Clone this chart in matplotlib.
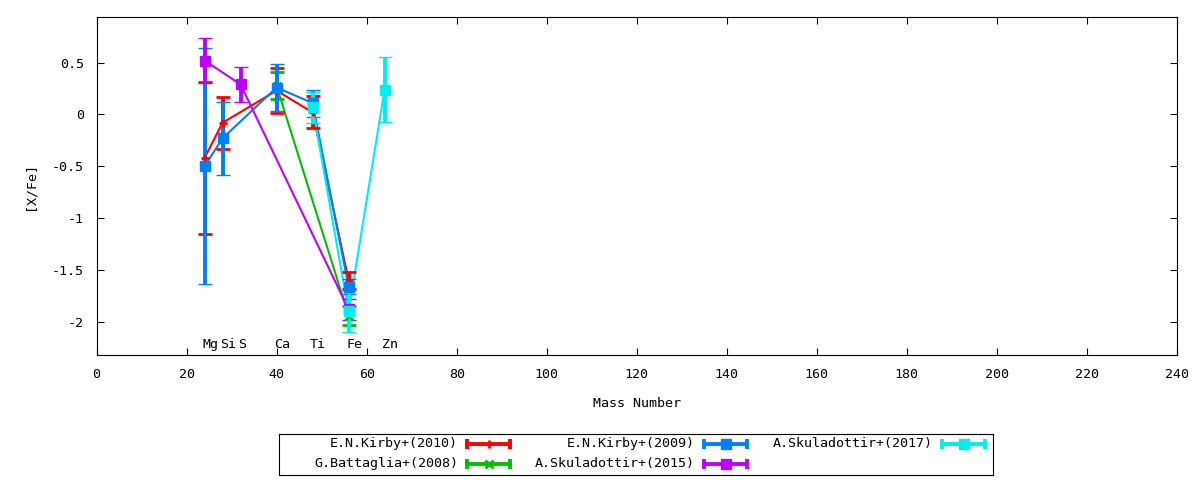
import matplotlib
matplotlib.use("Agg")
import matplotlib.pyplot as plt

plt.rcParams['font.family'] = ['DejaVu Sans Mono', 'DejaVu Sans']
FS = 9.6

# Element labels (mass number)
elements = ["Mg", "Si", "S", "Ca", "Ti", "Fe", "Zn"]
element_mass = [24, 28, 32, 40, 48, 56, 64]

# Series
kirby2010_x = [24, 28, 40, 48, 56]
kirby2010_y = [-0.42, -0.08, 0.23, 0.02, -1.60]
kirby2010_e = [0.73, 0.25, 0.215, 0.155, 0.08]

battaglia2008_x = [40, 56]
battaglia2008_y = [0.275, -1.94]
battaglia2008_e = [0.13, 0.09]

kirby2009_x = [24, 28, 40, 48, 56]
kirby2009_y = [-0.50, -0.23, 0.26, 0.11, -1.66]
kirby2009_e = [1.14, 0.35, 0.225, 0.13, 0.07]

skul2015_x = [24, 32, 56]
skul2015_y = [0.52, 0.29, -1.88]
skul2015_e = [0.22, 0.165, 0.10]

skul2017_x = [48, 56, 64]
skul2017_y = [0.07, -1.90, 0.24]
skul2017_e = [0.15, 0.20, 0.315]

series = [
    ("E.N.Kirby+(2010)", kirby2010_x, kirby2010_y, kirby2010_e, "#ff0000", "+"),
    ("G.Battaglia+(2008)", battaglia2008_x, battaglia2008_y, battaglia2008_e, "#00c000", "x"),
    ("E.N.Kirby+(2009)", kirby2009_x, kirby2009_y, kirby2009_e, "#0080ff", "s"),
    ("A.Skuladottir+(2015)", skul2015_x, skul2015_y, skul2015_e, "#c000ff", "s"),
    ("A.Skuladottir+(2017)", skul2017_x, skul2017_y, skul2017_e, "#00eeee", "s"),
]

x_ticks = list(range(0, 241, 20))
y_ticks = [-2, -1.5, -1, -0.5, 0, 0.5]
y_tick_labels = ["-2", "-1.5", "-1", "-0.5", "0", "0.5"]

fig = plt.figure(figsize=(12, 4.8), dpi=100)
ax = fig.add_axes([96.5/1200, 1-355/480, (1177-96.5)/1200, (355-17)/480])

for label, xs, ys, es, col, mk in series:
    ax.plot(xs, ys, color=col, lw=1.5, zorder=2)
    msize = 7.2 if mk == "s" else 6
    ax.errorbar(xs, ys, yerr=es, fmt=mk, color=col, ecolor=col, elinewidth=2.8,
                capsize=5.2, capthick=2.8, markersize=msize,
                markeredgewidth=2 if mk != "s" else 1, zorder=3)

for name, m in zip(elements, element_mass):
    ax.annotate(name, xy=(m, -2.215), xytext=(-1.8, 0), textcoords="offset points",
                ha="left", va="center", fontsize=FS)

ax.set_xlim(0, 240)
ax.set_ylim(-2.32, 0.94)
ax.set_xticks(x_ticks)
ax.set_xticklabels([str(t) for t in x_ticks], fontsize=FS)
ax.set_yticks(y_ticks)
ax.set_yticklabels(y_tick_labels, fontsize=FS)
ax.tick_params(direction="in", length=5, width=0.8, top=True, right=True, pad=9)
for s in ax.spines.values():
    s.set_linewidth(0.8)
ax.set_xlabel("Mass Number", fontsize=FS, labelpad=12)
ax.set_ylabel("[X/Fe]", fontsize=FS, labelpad=11)

# Legend (gnuplot-style, right-aligned text, sample after)
lg = fig.add_axes([279/1200, 1-475/480, (993-279)/1200, (475-434)/480])
lg.set_xlim(279, 993)
lg.set_ylim(475, 434)
lg.set_xticks([]); lg.set_yticks([])
for s in lg.spines.values():
    s.set_linewidth(0.8)
cols_text_right = [458, 695, 933]
rows_y = [444, 464]
order = [(0, 0), (0, 1), (1, 0), (1, 1), (2, 0)]
for (ci, ri), (label, xs, ys, es, col, mk) in zip(order, series):
    xr = cols_text_right[ci]
    yy = rows_y[ri]
    lg.text(xr, yy, label, ha="right", va="center", fontsize=FS)
    x0, x1 = xr + 9, xr + 52
    lg.plot([x0, x1], [yy, yy], color=col, lw=2.8, clip_on=False)
    lg.plot([x0, x1], [yy, yy], ls="none", marker="|", markersize=6.5, mew=2.8,
            color=col, clip_on=False)
    msize = 7.2 if mk == "s" else 6
    lg.plot([(x0 + x1) / 2], [yy], ls="none", marker=mk, markersize=msize,
            mew=2 if mk != "s" else 1, color=col, clip_on=False)

fig.savefig("out.png", dpi=100)
